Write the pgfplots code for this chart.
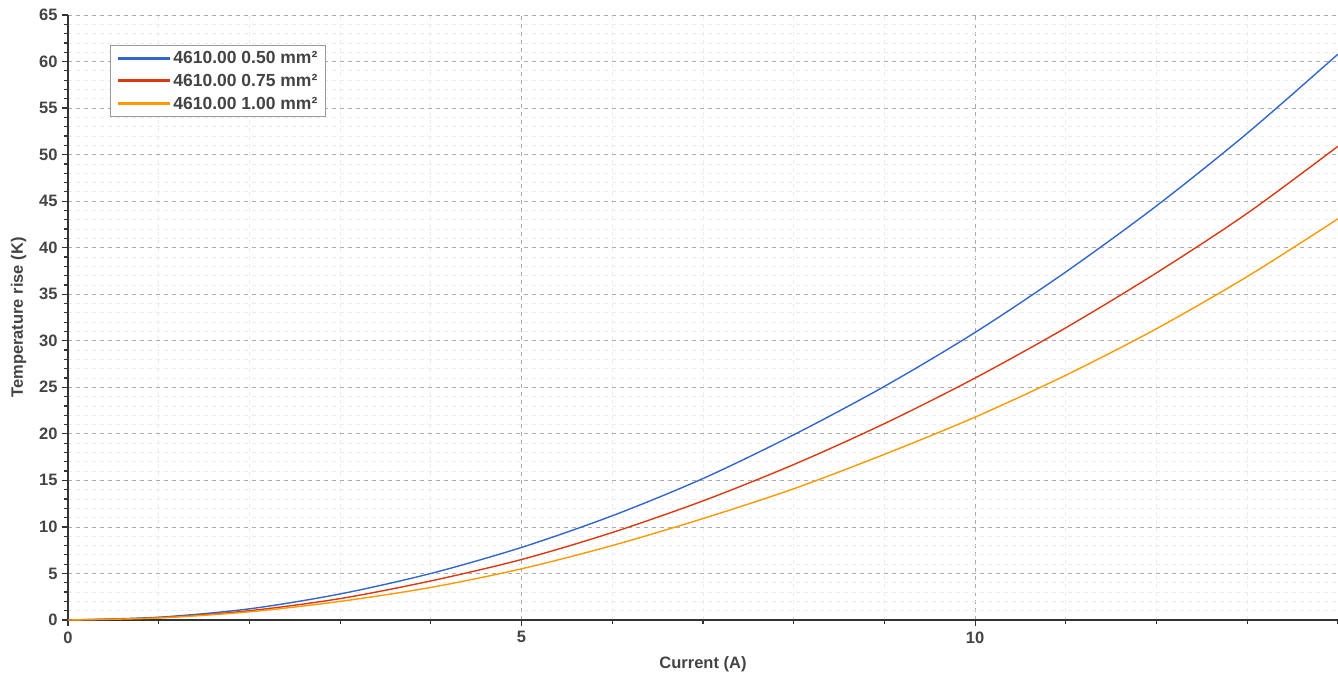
\documentclass[border=0pt]{standalone}
\usepackage{pgfplots}
\pgfplotsset{compat=1.18}
\usepackage{fontspec}
\setmainfont{Liberation Sans}
\definecolor{cblue}{HTML}{3366CC}
\definecolor{cred}{HTML}{DC3912}
\definecolor{corange}{HTML}{FF9900}
\definecolor{txt}{HTML}{444444}
\definecolor{axl}{HTML}{333333}
\begin{document}
\begin{tikzpicture}[x=1pt,y=1pt]
\path[use as bounding box] (-68,-53) rectangle (1270,620);
\begin{axis}[
  at={(0,0)}, anchor=south west,
  scale only axis, width=1270pt, height=605pt,
  xmin=0, xmax=14, ymin=0, ymax=65,
  axis x line=bottom, axis y line=left,
  axis line style={-, axl, line width=1.6pt},
  xtick={0,5,10}, ytick={0,5,...,65},
  minor xtick={1,2,3,4,6,7,8,9,11,12,13,14},
  minor ytick={1,2,3,4,6,7,8,9,11,12,13,14,16,17,18,19,21,22,23,24,26,27,28,29,31,32,33,34,36,37,38,39,41,42,43,44,46,47,48,49,51,52,53,54,56,57,58,59,61,62,63,64},
  tick align=outside,
  major tick length=6pt, minor tick length=3.5pt,
  tick style={axl, line width=1.2pt},
  grid=both,
  major grid style={gray!65, dash pattern=on 4pt off 4pt, line width=0.8pt},
  minor grid style={gray!15, dash pattern=on 4pt off 4pt, line width=0.8pt},
  /pgf/number format/assume math mode=true,
  ticklabel style={font=\fontsize{16.5}{19}\selectfont\bfseries, text=txt},
  xticklabel style={yshift=-2pt},
  yticklabel style={xshift=-1pt},
  xlabel={Current (A)},
  ylabel={Temperature rise (K)},
  label style={font=\fontsize{16.5}{19}\selectfont\bfseries, text=txt},
  xlabel style={yshift=-6pt},
  ylabel style={yshift=6pt},
  legend style={at={(42pt,575pt)}, anchor=north west,
    font=\fontsize{17.5}{20}\selectfont\bfseries, text=txt,
    draw=gray!80, line width=0.8pt, fill=white,
    row sep=5pt, inner xsep=6pt, inner ysep=4pt,
    legend cell align=left},
  legend image code/.code={\draw[line width=3pt] (0pt,0pt) -- (52pt,0pt);},
  every axis plot/.append style={line width=1.4pt, smooth},
]
\addplot[cblue] coordinates {(0,0) (1,0.3) (2,1.2) (3,2.8) (4,5.0) (5,7.8) (6,11.2) (7,15.2) (8,19.9) (9,25.1) (10,30.9) (11,37.4) (12,44.5) (13,52.3) (14,60.8)};
\addlegendentry{4610.00 0.50 mm²}
\addplot[cred] coordinates {(0,0) (1,0.25) (2,1.0) (3,2.3) (4,4.2) (5,6.5) (6,9.4) (7,12.8) (8,16.7) (9,21.1) (10,26.0) (11,31.4) (12,37.3) (13,43.7) (14,50.9)};
\addlegendentry{4610.00 0.75 mm²}
\addplot[corange] coordinates {(0,0) (1,0.22) (2,0.88) (3,2.0) (4,3.5) (5,5.5) (6,8.0) (7,10.9) (8,14.1) (9,17.8) (10,21.8) (11,26.3) (12,31.3) (13,36.9) (14,43.1)};
\addlegendentry{4610.00 1.00 mm²}
\end{axis}
\end{tikzpicture}
\end{document}
